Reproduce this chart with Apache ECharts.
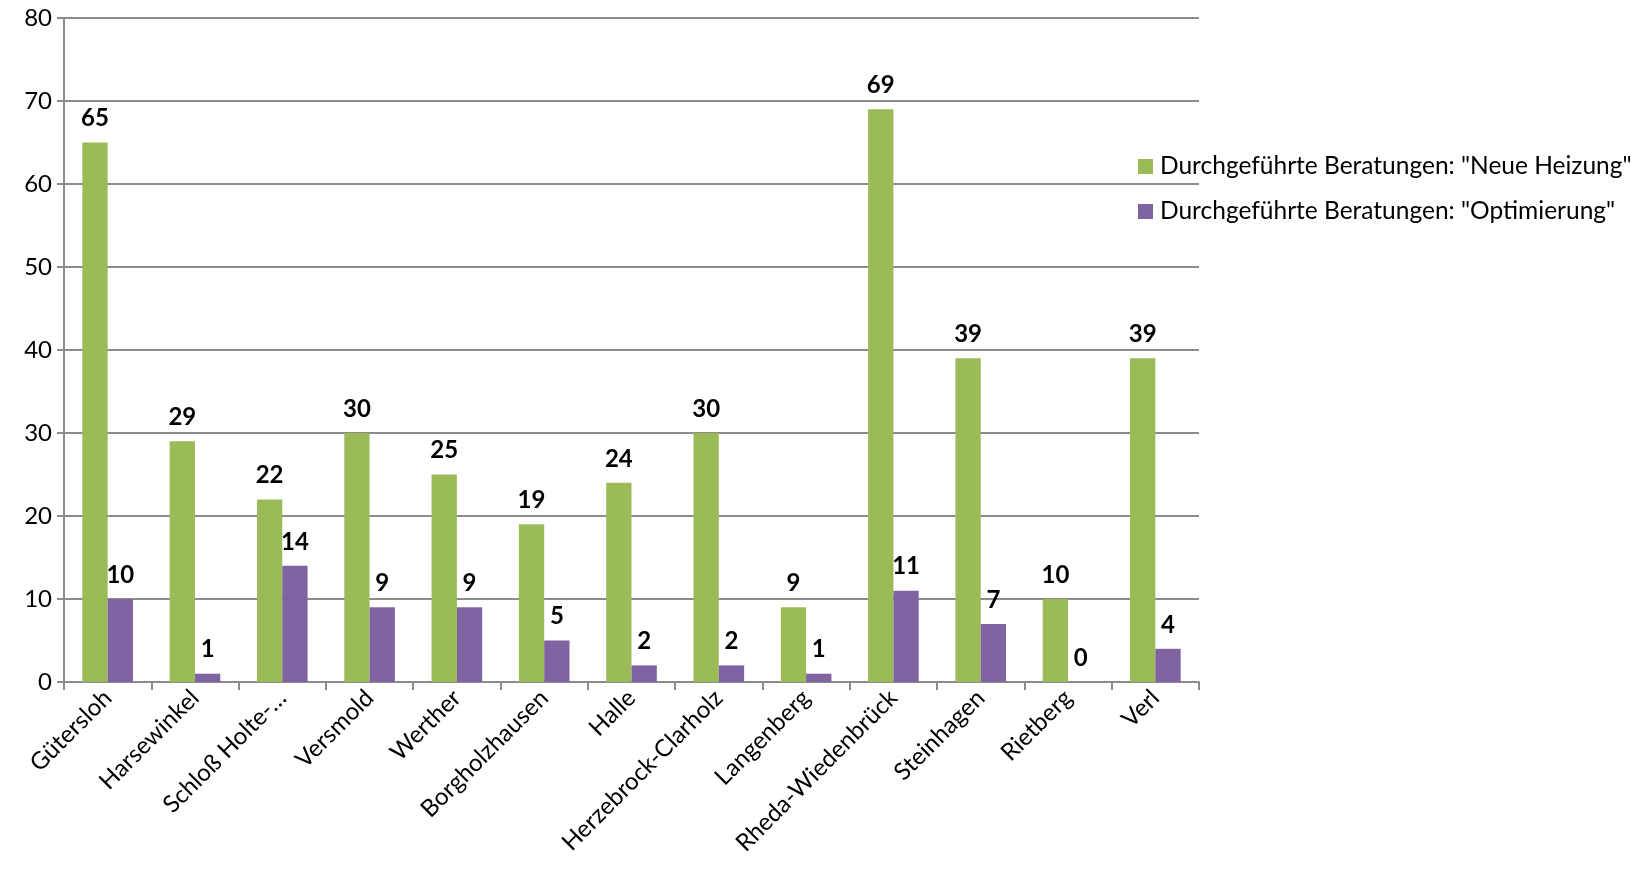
<!DOCTYPE html>
<html>
<head>
<meta charset="utf-8">
<script src="https://cdn.jsdelivr.net/npm/echarts@6/dist/echarts.min.js"></script>
<style>
  html, body { margin: 0; padding: 0; background: #ffffff; }
  #chart { width: 1650px; height: 875px; }
</style>
</head>
<body>
<div id="chart"></div>
<script>
// Kommunen im Kreis Gütersloh
const categories = [
  'Gütersloh', 'Harsewinkel', 'Schloß Holte-…', 'Versmold', 'Werther',
  'Borgholzhausen', 'Halle', 'Herzebrock-Clarholz', 'Langenberg',
  'Rheda-Wiedenbrück', 'Steinhagen', 'Rietberg', 'Verl'
];
const seriesNames = [
  'Durchgeführte Beratungen: "Neue Heizung"',
  'Durchgeführte Beratungen: "Optimierung"'
];
const neueHeizung = [65, 29, 22, 30, 25, 19, 24, 30, 9, 69, 39, 10, 39];
const optimierung = [10, 1, 14, 9, 9, 5, 2, 2, 1, 11, 7, 0, 4];
const yTicks = [0, 10, 20, 30, 40, 50, 60, 70, 80];

const FONT = 'Lato, "Open Sans", sans-serif';
const GRID_GRAY = '#8c8c8c';

const chart = echarts.init(document.getElementById('chart'));

const barLabel = {
  show: true,
  position: 'top',
  distance: 12,
  color: '#000',
  fontFamily: FONT,
  fontWeight: 'bold',
  fontSize: 24
};

chart.setOption({
  animation: false,
  backgroundColor: '#ffffff',
  textStyle: { fontFamily: FONT },
  grid: { left: 64, right: 451, top: 18, bottom: 193, containLabel: false },
  legend: {
    orient: 'vertical',
    left: 1133,
    top: 149,
    itemWidth: 15,
    itemHeight: 15,
    itemGap: 20,
    icon: 'rect',
    textStyle: { fontFamily: FONT, fontSize: 24.5, color: '#000', padding: [0, 0, 0, 2] },
    data: seriesNames
  },
  xAxis: {
    type: 'category',
    data: categories,
    axisLine: { lineStyle: { color: GRID_GRAY, width: 2 } },
    axisTick: { show: true, alignWithLabel: false, length: 8, lineStyle: { color: GRID_GRAY, width: 2 } },
    axisLabel: {
      rotate: 45,
      interval: 0,
      margin: 12,
      color: '#000',
      fontFamily: FONT,
      fontSize: 24
    }
  },
  yAxis: {
    type: 'value',
    min: yTicks[0],
    max: yTicks[yTicks.length - 1],
    interval: 10,
    axisLine: { show: true, lineStyle: { color: GRID_GRAY, width: 2 } },
    axisTick: { show: true, length: 7, lineStyle: { color: GRID_GRAY, width: 2 } },
    axisLabel: { color: '#000', fontFamily: FONT, fontSize: 24, margin: 12 },
    splitLine: { lineStyle: { color: GRID_GRAY, width: 2 } }
  },
  series: [
    {
      name: seriesNames[0],
      type: 'bar',
      data: neueHeizung,
      itemStyle: { color: '#9bbb59' },
      barGap: '0%',
      barCategoryGap: '42%',
      label: barLabel
    },
    {
      name: seriesNames[1],
      type: 'bar',
      data: optimierung,
      itemStyle: { color: '#8064a2' },
      label: barLabel
    }
  ]
});
</script>
</body>
</html>
